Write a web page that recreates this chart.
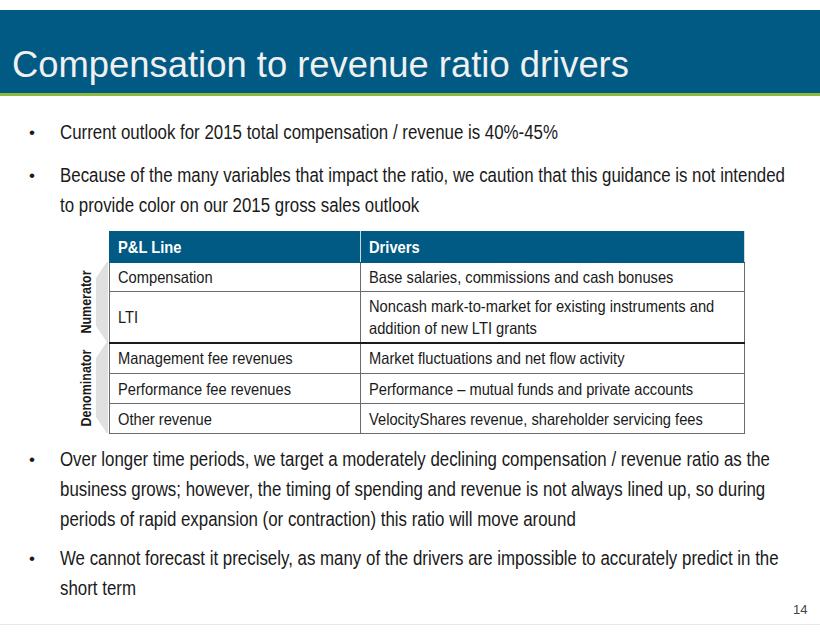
<!DOCTYPE html>
<html>
<head>
<meta charset="utf-8">
<script src="https://cdn.jsdelivr.net/npm/chart.js@4.4.0/dist/chart.umd.min.js"></script>
<style>
  html, body { margin: 0; padding: 0; background: #fff; }
  body { width: 820px; height: 635px; position: relative; overflow: hidden;
         font-family: "Liberation Sans", Arial, sans-serif; color: #1a1a1a; }
  #band { position: absolute; left: 0; top: 10px; width: 820px; height: 83px; background: #005a84; }
  #band-line { position: absolute; left: 0; top: 93px; width: 820px; height: 3px; background: #8fb83e; }
  #title { position: absolute; left: 12px; top: 44px; font-size: 36.4px; color: #f0f0f0; white-space: nowrap; }
  .n { display: inline-block; white-space: nowrap; transform: scaleX(0.89); transform-origin: 0 50%; }
  .bullet { position: absolute; left: 0; font-size: 19.3px; line-height: 29.8px; width: 800px; }
  .bullet .n { transform: scaleX(0.875); }
  .bullet .dot { position: absolute; left: 29px; top: 0; font-size: 17px; }
  .bullet .txt { margin-left: 60px; width: 740px; }
  #tbl { position: absolute; left: 109px; top: 231px; width: 636px; border-collapse: collapse; font-size: 16.5px; table-layout: fixed; }
  #tbl td, #tbl th { border: 1px solid #6b6b6b; padding: 0 0 0 8px; text-align: left; vertical-align: middle; overflow: hidden; }
  #tbl th { background: #005a84; color: #fff; font-weight: bold; height: 30px; border-color: #005a84; border-right: 1px solid #cfd8e0; }
  #tbl td { line-height: 22px; }
  #tbl tr.split td { border-top: 2px solid #1a1a1a; }
  .side { position: absolute; font-weight: bold; font-size: 14px; white-space: nowrap;
          transform: translate(-50%, -50%) rotate(-90deg) scaleX(0.89); left: 86px; }
  .brace { position: absolute; left: 96px; width: 12px; background: #e0e0e0; }
  #page { position: absolute; left: 793px; top: 602px; font-size: 13px; color: #444; }
  #foot { position: absolute; left: 0; top: 624px; width: 820px; height: 1px; background: #e8e8e8; }
</style>
</head>
<body>
<div id="band"></div>
<div id="band-line"></div>
<div id="title"></div>
<div id="content"></div>
<div id="page"></div>
<div id="foot"></div>
<script>
const slideTitle = 'Compensation to revenue ratio drivers';
const pageNumber = '14';

const bulletsTop = [
  ['Current outlook for 2015 total compensation / revenue is 40%-45%'],
  ['Because of the many variables that impact the ratio, we caution that this guidance is not intended',
   'to provide color on our 2015 gross sales outlook']
];
const bulletsBottom = [
  ['Over longer time periods, we target a moderately declining compensation / revenue ratio as the',
   'business grows; however, the timing of spending and revenue is not always lined up, so during',
   'periods of rapid expansion (or contraction) this ratio will move around'],
  ['We cannot forecast it precisely, as many of the drivers are impossible to accurately predict in the',
   'short term']
];

const tableHeader = ['P&L Line', 'Drivers'];
const plLines = ['Compensation', 'LTI', 'Management fee revenues', 'Performance fee revenues', 'Other revenue'];
const drivers = [
  ['Base salaries, commissions and cash bonuses'],
  ['Noncash mark-to-market for existing instruments and', 'addition of new LTI grants'],
  ['Market fluctuations and net flow activity'],
  ['Performance \u2013 mutual funds and private accounts'],
  ['VelocityShares revenue, shareholder servicing fees']
];
const rowHeights = [29, 51, 31, 30, 30];
const groupNames = ['Numerator', 'Denominator'];
const groupRows = [[0, 1], [2, 4]];

function esc(s) { return s.replace(/&/g, '&amp;'); }
function narrow(lines) { return lines.map(l => `<span class="n">${esc(l)}</span>`).join('<br>'); }

document.getElementById('title').textContent = slideTitle;
document.getElementById('page').textContent = pageNumber;

const content = document.getElementById('content');

function addBullets(list, tops) {
  list.forEach((lines, i) => {
    const b = document.createElement('div');
    b.className = 'bullet';
    b.style.top = tops[i] + 'px';
    b.innerHTML = '<span class="dot">\u2022</span><div class="txt">' + narrow(lines) + '</div>';
    content.appendChild(b);
  });
}
addBullets(bulletsTop, [118, 161]);
addBullets(bulletsBottom, [445, 544]);

// Tabela
let html = '<table id="tbl"><colgroup><col style="width:251px"><col></colgroup><thead><tr>';
html += `<th>${narrow([tableHeader[0]])}</th><th>${narrow([tableHeader[1]])}</th>`;
html += '</tr></thead><tbody>';
plLines.forEach((line, i) => {
  const cls = i === groupRows[1][0] ? ' class="split"' : '';
  html += `<tr${cls} style="height:${rowHeights[i]}px"><td>${narrow([line])}</td><td>${narrow(drivers[i])}</td></tr>`;
});
html += '</tbody></table>';
content.insertAdjacentHTML('beforeend', html);

// Rótulos laterais e colchetes
const tbl = document.getElementById('tbl');
const rows = tbl.tBodies[0].rows;
groupNames.forEach((name, g) => {
  const r0 = rows[groupRows[g][0]], r1 = rows[groupRows[g][1]];
  const top = r0.offsetTop + tbl.offsetTop;
  const bottom = r1.offsetTop + r1.offsetHeight + tbl.offsetTop;
  const brace = document.createElement('div');
  brace.className = 'brace';
  brace.style.top = top + 'px';
  brace.style.height = (bottom - top) + 'px';
  brace.style.clipPath = 'polygon(100% 0, 100% 100%, 90% 100%, 0 calc(100% - 16px), 0 16px, 90% 0)';
  content.appendChild(brace);
  const lab = document.createElement('div');
  lab.className = 'side';
  lab.textContent = name;
  lab.style.top = ((top + bottom) / 2) + 'px';
  content.appendChild(lab);
});
</script>
</body>
</html>
